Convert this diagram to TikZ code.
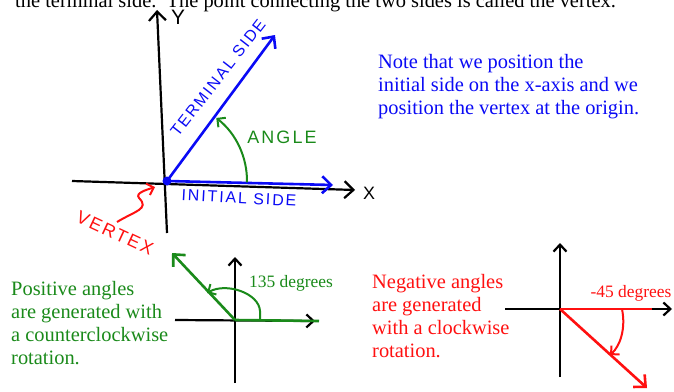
\documentclass[tikz,border=0pt]{standalone}
\usepackage{fontspec}
\setmainfont{Liberation Serif}
\newfontfamily\handfont[LetterSpace=12]{Liberation Sans}
\usetikzlibrary{arrows.meta}
\definecolor{inkblue}{HTML}{0A0AF5}
\definecolor{inkgreen}{HTML}{1A8A1A}
\definecolor{inkred}{HTML}{FF1010}

\begin{document}
\begin{tikzpicture}[x=1bp, y=1bp,
  axis/.style={line width=2.2bp, -{Straight Barb[length=9bp, width=17bp]}},
  axis small/.style={line width=2.2bp, -{Straight Barb[length=7bp, width=13bp]}},
  ray/.style={line width=2.6bp, -{Straight Barb[length=9bp, width=17bp]}},
  turn/.style={line width=2bp, -{Straight Barb[length=6bp, width=12bp]}},
  hand/.style={font=\handfont\fontsize{16}{16}\selectfont, inner sep=0pt},
  note/.style={font=\fontsize{20.5}{23}\selectfont, align=left, inner sep=0pt,
               anchor=north west},
  small/.style={font=\fontsize{17.5}{20}\selectfont, inner sep=0pt},
]
\useasboundingbox (0,0) rectangle (674,391);

\node[font=\fontsize{20.5}{23}\selectfont, anchor=base west, inner sep=0pt] (intro)
  at (15,384) {the terminal side.\ \ The point connecting the two sides is called the vertex.};

% main picture
\coordinate (o1) at (167,210);
\coordinate (ybot) at (167,158);
\coordinate (ytop) at (157,381);
\coordinate (xleft) at (72,210);
\coordinate (xright) at (355,201);
\coordinate (term) at (275,356);
\coordinate (init) at (333,206);
\coordinate (vtail) at (117,169);
\coordinate (vtip) at (155,204);

\draw[axis] (ybot) -- (ytop);
\draw[axis] (xleft) -- (xright);
\draw[ray, inkblue] (o1) -- (init);
\draw[ray, inkblue] (o1) -- (term);
\draw[turn, inkgreen] (o1) ++(-1:80) arc[start angle=-1, end angle=52, radius=80];
\fill[inkblue] (o1) circle (4.5);

\node[hand, font=\handfont\fontsize{21}{21}\selectfont] (ylab) at (178,374) {Y};
\node[hand, font=\handfont\fontsize{18}{18}\selectfont] (xlab) at (369,198) {X};
\node[hand, inkblue, rotate=52] (termlab) at (218,313) {TERMINAL SIDE};
\node[hand, inkblue, rotate=-3] (initlab) at (239,193) {INITIAL SIDE};
\node[hand, inkgreen, font=\handfont\fontsize{18}{18}\selectfont] (anglab) at (282,254) {ANGLE};
\node[hand, inkred, rotate=-25, font=\handfont\fontsize{18}{18}\selectfont] (vertlab) at (115,158) {VERTEX};
\draw[turn, inkred] (vtail) .. controls (135,180) and (150,182) .. (139,193)
  .. controls (135,198) and (146,201) .. (vtip);

\node[note, inkblue] (remark) at (378,337)
  {Note that we position the\\initial side on the x-axis and we\\position the vertex at the origin.};

% positive angle
\coordinate (o2) at (235,71);
\coordinate (pbot) at (235,8);
\coordinate (ptop) at (235,134);
\coordinate (pleft) at (175,71);
\coordinate (pright) at (315,70);
\coordinate (pend) at (319,70);
\coordinate (pterm) at (172,138);

\draw[axis small] (pbot) -- (ptop);
\draw[axis small] (pleft) -- (pright);
\draw[line width=2.6bp, inkgreen] (o2) -- (pend);
\draw[ray, inkgreen] (o2) -- (pterm);
\draw[turn, inkgreen] (260,71) -- (260,80) .. controls (259,98) and (226,109) .. (207,98);
\node[small, inkgreen] (poslab) at (291,108) {135 degrees};
\node[note, inkgreen] (postext) at (11,110)
  {Positive angles\\are generated with\\a counterclockwise\\rotation.};

% negative angle
\coordinate (o3) at (560,82);
\coordinate (nbot) at (560,14);
\coordinate (ntop) at (560,148);
\coordinate (nleft) at (505,82);
\coordinate (nright) at (672,82);
\coordinate (nend) at (652,82);
\coordinate (nterm) at (647,3);

\draw[axis small] (nbot) -- (ntop);
\draw[axis small] (nleft) -- (nright);
\draw[line width=2.6bp, inkred] (o3) -- (nend);
\draw[ray, inkred] (o3) -- (nterm);
\draw[turn, inkred] (622,82) .. controls (626,62) and (620,45) .. (610,36);
\node[small, inkred] (neglab) at (631,98) {-45 degrees};
\node[note, inkred] (negtext) at (372,117)
  {Negative angles\\are generated\\with a clockwise\\rotation.};

\end{tikzpicture}
\end{document}
